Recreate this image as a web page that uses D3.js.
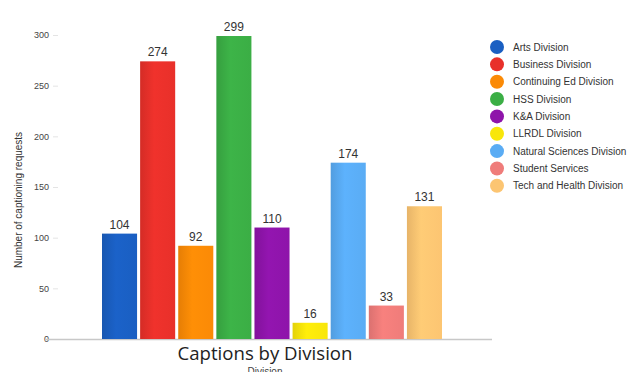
<!DOCTYPE html>
<html><head><meta charset="utf-8">
<script src="https://cdn.jsdelivr.net/npm/d3@7"></script>
<style>body{margin:0;background:#fff}svg{display:block}</style>
</head><body><svg id="c" width="638" height="372"></svg>
<script>
const categories = ["Arts Division","Business Division","Continuing Ed Division","HSS Division","K&A Division","LLRDL Division","Natural Sciences Division","Student Services","Tech and Health Division"];
const values = [104,274,92,299,110,16,174,33,131];
const colors = ["#1a5fc2","#e8302a","#fb8a06","#3bae45","#8e14aa","#f8e60a","#5aacf4","#ef7c7a","#fcc572"];
const yTicks = [0,50,100,150,200,250,300];

const svg = d3.select("#c");
const x = d3.scaleBand().domain(categories).range([102,442]).paddingInner(0.08).paddingOuter(0);
const y = d3.scaleLinear().domain([0,300]).range([339,35]);

// y axis
const ya = svg.append("g").attr("transform","translate(58,0)")
  .call(d3.axisLeft(y).tickValues(yTicks).tickSize(5).tickPadding(4));
ya.select(".domain").remove();
ya.selectAll(".tick line").attr("stroke","#e4e4e4");
ya.selectAll(".tick text").attr("fill","#444").attr("font-family","Arial, Liberation Sans, sans-serif").attr("font-size",9);

// baseline
svg.append("line").attr("x1",45).attr("x2",492).attr("y1",y(0)+0.5).attr("y2",y(0)+0.5).attr("stroke","#c8c8c8").attr("stroke-width",1.5);

// gradients
const defs = svg.append("defs");
colors.forEach((c,i)=>{
  const g = defs.append("linearGradient").attr("id","g"+i).attr("x1","0").attr("x2","1").attr("y1","0").attr("y2","0");
  const dk = d3.color(c).darker(0.25), lt = d3.color(c).brighter(0.1);
  g.append("stop").attr("offset","0%").attr("stop-color",dk);
  g.append("stop").attr("offset","40%").attr("stop-color",lt);
  g.append("stop").attr("offset","100%").attr("stop-color",c);
});

svg.selectAll("rect.bar").data(values).enter().append("rect").attr("class","bar")
  .attr("x",(d,i)=>x(categories[i])).attr("width",x.bandwidth())
  .attr("y",d=>y(d)).attr("height",d=>y(0)-y(d))
  .attr("fill",(d,i)=>"url(#g"+i+")");

svg.selectAll("text.val").data(values).enter().append("text").attr("class","val")
  .attr("x",(d,i)=>x(categories[i])+x.bandwidth()/2).attr("y",d=>y(d)-5)
  .attr("text-anchor","middle").attr("font-family","Arial, Liberation Sans, sans-serif")
  .attr("font-size",12).attr("fill","#333").text(d=>d);

// y label
svg.append("text").attr("transform","translate(22,200) rotate(-90)").attr("text-anchor","middle")
  .attr("font-family","Arial, Liberation Sans, sans-serif").attr("font-size",10).attr("fill","#333")
  .text("Number of captioning requests");

// title
svg.append("text").attr("x",265).attr("y",360).attr("text-anchor","middle")
  .attr("font-family","Open Sans, Noto Sans, sans-serif").attr("font-size",18.6).attr("fill","#222")
  .text("Captions by Division");
svg.append("text").attr("x",265).attr("y",375).attr("text-anchor","middle")
  .attr("font-family","Arial, Liberation Sans, sans-serif").attr("font-size",10).attr("fill","#444")
  .text("Division");

// legend
const lg = svg.append("g");
categories.forEach((c,i)=>{
  const yy = 47 + i*17.35;
  lg.append("circle").attr("cx",497).attr("cy",yy).attr("r",7).attr("fill",colors[i]);
  lg.append("text").attr("x",513).attr("y",yy+3.5).attr("font-family","Arial, Liberation Sans, sans-serif")
    .attr("font-size",10).attr("fill","#333").text(c);
});
</script></body></html>
